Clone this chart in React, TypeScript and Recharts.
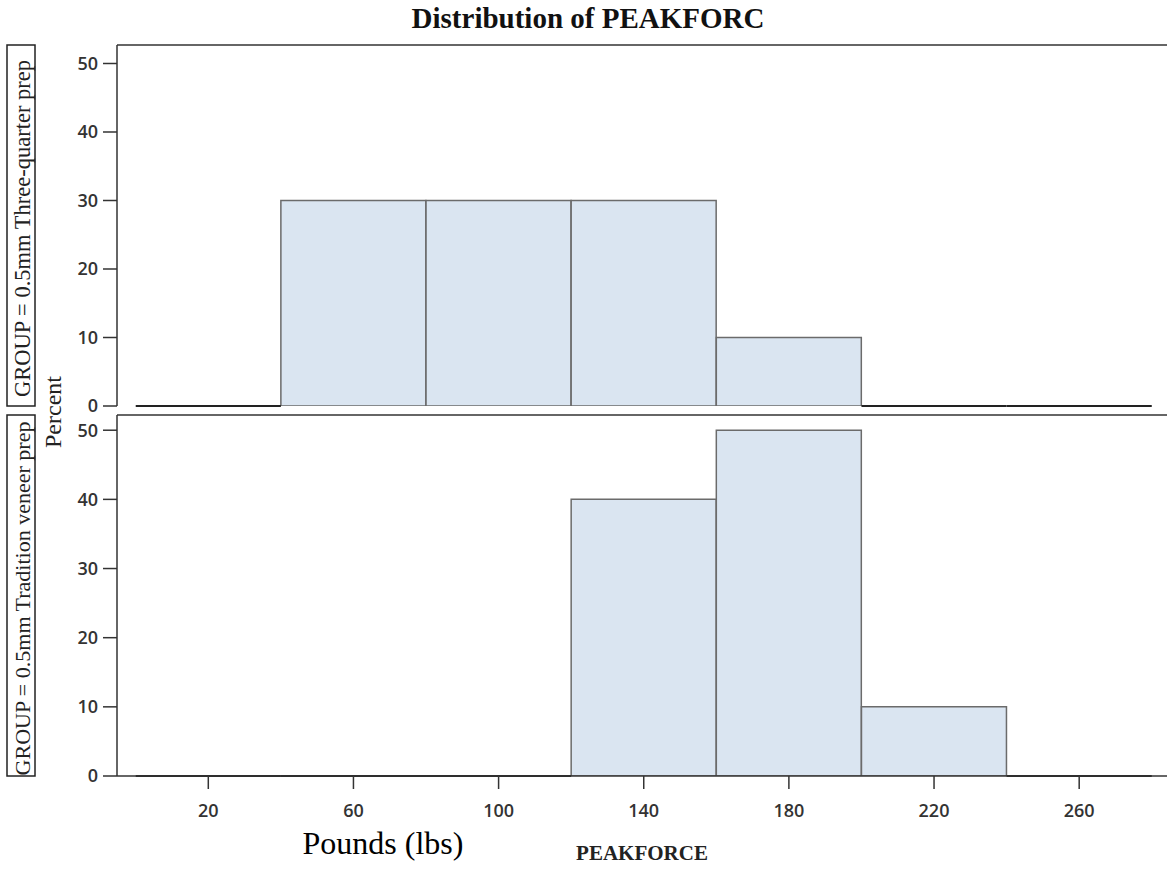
import React from 'react';
import {
  ComposedChart,
  Bar,
  XAxis,
  YAxis,
  ReferenceLine,
} from 'recharts';

// histogram bins (PEAKFORCE, lbs) and percent per group
const binMids = [20, 60, 100, 140, 180, 220, 260];
const binWidth = 40;
const threeQuarterPct = [0, 30, 30, 30, 10, 0, 0];
const traditionPct = [0, 0, 0, 40, 50, 10, 0];
const xTicks = [20, 60, 100, 140, 180, 220, 260];
const yTicks = [0, 10, 20, 30, 40, 50];
const groupLabels = ['GROUP = 0.5mm Three-quarter prep', 'GROUP = 0.5mm Tradition veneer prep'];

const X_DOMAIN: [number, number] = [-5.16, 284.2];
const W = 1167;
const H = 869;

const axisColor = '#333333';
const barFill = '#DAE5F1';
const barStroke = '#6B6B6B';
const tickStyle = { fontFamily: '"Open Sans", sans-serif', fontSize: 18, fontWeight: 600, fill: '#333333' };
const serif = '"Liberation Serif", "Times New Roman", serif';

const makeRows = (pct: number[]) => binMids.map((mid, i) => ({ mid, pct: pct[i] }));

interface PanelProps {
  pct: number[];
  top: number;
  bottom: number;
  yMax: number;
  showX: boolean;
}

const Panel: React.FC<PanelProps> = ({ pct, top, bottom, yMax, showX }) => {
  const rows = makeRows(pct);
  const xAxisHeight = showX ? 40 : 0;
  return (
    <div style={{ position: 'absolute', left: 0, top: 0 }}>
      <ComposedChart
        width={W}
        height={H}
        data={rows}
        margin={{ top, right: 0, left: 60, bottom: H - bottom - xAxisHeight }}
        barCategoryGap={0}
        barGap={0}
      >
        <XAxis
          dataKey="mid"
          type="number"
          domain={X_DOMAIN}
          allowDataOverflow
          ticks={xTicks}
          height={xAxisHeight}
          tick={showX ? tickStyle : false}
          tickLine={showX ? { stroke: axisColor, strokeWidth: 1.5 } : false}
          tickSize={13}
          tickMargin={15}
          axisLine={{ stroke: axisColor, strokeWidth: 1.5 }}
        />
        <YAxis
          type="number"
          domain={[0, yMax]}
          allowDataOverflow
          ticks={yTicks}
          width={57}
          tick={tickStyle}
          tickLine={{ stroke: axisColor, strokeWidth: 1.5 }}
          tickSize={14}
          tickMargin={5}
          axisLine={{ stroke: axisColor, strokeWidth: 1.5 }}
        />
        <ReferenceLine y={yMax} stroke={axisColor} strokeWidth={1.5} />
        {/* empty bins show as a flat outline on the baseline */}
        {rows.filter(r => r.pct === 0).map(r => (
          <ReferenceLine
            key={`zero-${r.mid}`}
            segment={[{ x: r.mid - binWidth / 2, y: 0 }, { x: r.mid + binWidth / 2, y: 0 }]}
            stroke="#222222"
            strokeWidth={2}
          />
        ))}
        <Bar dataKey="pct" fill={barFill} stroke={barStroke} strokeWidth={1.5} isAnimationActive={false} />
      </ComposedChart>
    </div>
  );
};

export default function App() {
  return (
    <div style={{ position: 'absolute', left: 0, top: 0, width: W, height: H, background: '#fff' }}>
      <Panel pct={threeQuarterPct} top={45} bottom={406} yMax={52.7} showX={false} />
      <Panel pct={traditionPct} top={415} bottom={776} yMax={52.2} showX={true} />
      <svg width={W} height={H} style={{ position: 'absolute', left: 0, top: 0, pointerEvents: 'none' }}>
        <text x={588} y={28} textAnchor="middle" fontFamily={serif} fontWeight="bold" fontSize={29} fill="#111">
          Distribution of PEAKFORC
        </text>
        {groupLabels.map((label, i) => {
          const y0 = i === 0 ? 45 : 415;
          const h = 361;
          return (
            <g key={label}>
              <rect x={7} y={y0} width={28} height={h} fill="none" stroke="#222" strokeWidth={1.5} />
              <text
                x={22}
                y={y0 + h / 2 + 3}
                transform={`rotate(-90 22 ${y0 + h / 2 + 3})`}
                textAnchor="middle"
                dominantBaseline="central"
                fontFamily={serif}
                fontSize={i === 0 ? 22.5 : 22}
                fill="#222"
              >
                {label}
              </text>
            </g>
          );
        })}
        <text
          x={53}
          y={412}
          transform="rotate(-90 53 412)"
          textAnchor="middle"
          dominantBaseline="central"
          fontFamily={serif}
          fontSize={24}
          fill="#222"
        >
          Percent
        </text>
        <text x={383} y={854} textAnchor="middle" fontFamily={serif} fontSize={32} fill="#000">
          Pounds (lbs)
        </text>
        <text x={642} y={860} textAnchor="middle" fontFamily={serif} fontWeight="bold" fontSize={21} fill="#222">
          PEAKFORCE
        </text>
      </svg>
    </div>
  );
}
